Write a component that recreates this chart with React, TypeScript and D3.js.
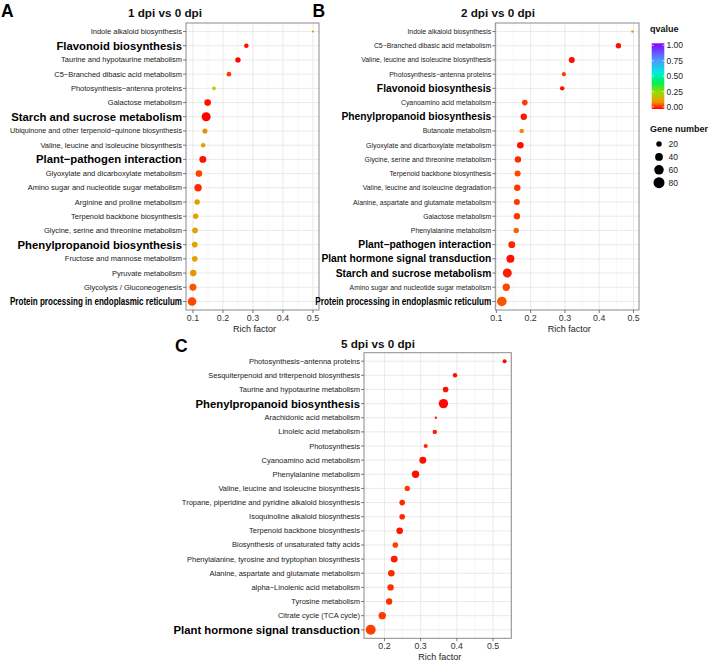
import React, { useEffect, useRef } from "react";
import * as d3 from "d3";

const FONT = "'Liberation Sans', Arial, Helvetica, sans-serif";

const highlightTerms = [
  "Flavonoid biosynthesis",
  "Starch and sucrose metabolism",
  "Plant−pathogen interaction",
  "Phenylpropanoid biosynthesis",
  "Protein processing in endoplasmic reticulum",
  "Plant hormone signal transduction",
];

// Panel A: 1 dpi vs 0 dpi (top to bottom)
const termsA = [
  "Indole alkaloid biosynthesis",
  "Flavonoid biosynthesis",
  "Taurine and hypotaurine metabolism",
  "C5−Branched dibasic acid metabolism",
  "Photosynthesis−antenna proteins",
  "Galactose metabolism",
  "Starch and sucrose metabolism",
  "Ubiquinone and other terpenoid−quinone biosynthesis",
  "Valine, leucine and isoleucine biosynthesis",
  "Plant−pathogen interaction",
  "Glyoxylate and dicarboxylate metabolism",
  "Amino sugar and nucleotide sugar metabolism",
  "Arginine and proline metabolism",
  "Terpenoid backbone biosynthesis",
  "Glycine, serine and threonine metabolism",
  "Phenylpropanoid biosynthesis",
  "Fructose and mannose metabolism",
  "Pyruvate metabolism",
  "Glycolysis / Gluconeogenesis",
  "Protein processing in endoplasmic reticulum",
];
const richA = [0.5, 0.278, 0.25, 0.22, 0.17, 0.149, 0.144, 0.14, 0.134, 0.133, 0.12, 0.117, 0.114, 0.109, 0.107, 0.106, 0.106, 0.101, 0.1, 0.097];
const genesA = [3, 14, 19, 14, 9, 29, 54, 17, 14, 32, 29, 36, 19, 19, 21, 21, 21, 27, 32, 49];
const qA = [0.1, 0.01, 0.005, 0.04, 0.25, 0.01, 0.002, 0.11, 0.13, 0.01, 0.05, 0.03, 0.125, 0.14, 0.135, 0.135, 0.135, 0.11, 0.06, 0.05];

// Panel B: 2 dpi vs 0 dpi
const termsB = [
  "Indole alkaloid biosynthesis",
  "C5−Branched dibasic acid metabolism",
  "Valine, leucine and isoleucine biosynthesis",
  "Photosynthesis−antenna proteins",
  "Flavonoid biosynthesis",
  "Cyanoamino acid metabolism",
  "Phenylpropanoid biosynthesis",
  "Butanoate metabolism",
  "Glyoxylate and dicarboxylate metabolism",
  "Glycine, serine and threonine metabolism",
  "Terpenoid backbone biosynthesis",
  "Valine, leucine and isoleucine degradation",
  "Alanine, aspartate and glutamate metabolism",
  "Galactose metabolism",
  "Phenylalanine metabolism",
  "Plant−pathogen interaction",
  "Plant hormone signal transduction",
  "Starch and sucrose metabolism",
  "Amino sugar and nucleotide sugar metabolism",
  "Protein processing in endoplasmic reticulum",
];
const richB = [0.497, 0.456, 0.32, 0.297, 0.292, 0.183, 0.18, 0.174, 0.17, 0.163, 0.162, 0.161, 0.16, 0.16, 0.158, 0.145, 0.141, 0.132, 0.129, 0.116];
const genesB = [4, 19, 24, 11, 13, 21, 27, 14, 29, 27, 24, 27, 24, 27, 19, 32, 42, 54, 36, 61];
const qB = [0.13, 0.01, 0.01, 0.04, 0.01, 0.04, 0.015, 0.1, 0.01, 0.03, 0.05, 0.04, 0.04, 0.04, 0.07, 0.025, 0.012, 0.02, 0.05, 0.06];

// Panel C: 5 dpi vs 0 dpi
const termsC = [
  "Photosynthesis−antenna proteins",
  "Sesquiterpenoid and triterpenoid biosynthesis",
  "Taurine and hypotaurine metabolism",
  "Phenylpropanoid biosynthesis",
  "Arachidonic acid metabolism",
  "Linoleic acid metabolism",
  "Photosynthesis",
  "Cyanoamino acid metabolism",
  "Phenylalanine metabolism",
  "Valine, leucine and isoleucine biosynthesis",
  "Tropane, piperidine and pyridine alkaloid biosynthesis",
  "Isoquinoline alkaloid biosynthesis",
  "Terpenoid backbone biosynthesis",
  "Biosynthesis of unsaturated fatty acids",
  "Phenylalanine, tyrosine and tryptophan biosynthesis",
  "Alanine, aspartate and glutamate metabolism",
  "alpha−Linolenic acid metabolism",
  "Tyrosine metabolism",
  "Citrate cycle (TCA cycle)",
  "Plant hormone signal transduction",
];
const richC = [0.532, 0.395, 0.369, 0.363, 0.342, 0.339, 0.314, 0.306, 0.286, 0.263, 0.249, 0.249, 0.242, 0.23, 0.227, 0.219, 0.217, 0.213, 0.194, 0.162];
const genesC = [11, 13, 21, 58, 4, 13, 11, 32, 36, 19, 21, 21, 29, 21, 32, 29, 27, 27, 36, 66];
const qC = [0.01, 0.01, 0.01, 0.005, 0.02, 0.02, 0.025, 0.01, 0.01, 0.04, 0.03, 0.03, 0.015, 0.045, 0.02, 0.03, 0.035, 0.035, 0.04, 0.045];

const ticksAB = [0.1, 0.2, 0.3, 0.4, 0.5];
const ticksC = [0.2, 0.3, 0.4, 0.5];
const qLegendTicks = [1, 0.75, 0.5, 0.25, 0];
const geneLegendValues = [20, 40, 60, 80];
const qStops = [0, 0.05, 0.1, 0.15, 0.25, 0.4, 0.55, 0.75, 1];
const qColors = ["#FF0000", "#FF4500", "#F08C00", "#DDAA00", "#99DD00", "#00EE55", "#00EEDD", "#4D94FF", "#8800FF"];

type Panel = {
  letter: string;
  title: string;
  terms: string[];
  rich: number[];
  genes: number[];
  q: number[];
  ticks: number[];
  left: number;
  right: number;
  top: number;
  bottom: number;
  fNormal: number;
  fBold: number;
  maxW: number;
  titleX: number;
  titleY: number;
  letterX: number;
  letterY: number;
};

const panels: Panel[] = [
  { letter: "A", title: "1 dpi vs 0 dpi", terms: termsA, rich: richA, genes: genesA, q: qA, ticks: ticksAB,
    left: 186, right: 319, top: 23, bottom: 310, fNormal: 7.5, fBold: 11.3, maxW: 172,
    titleX: 165, titleY: 16.5, letterX: 1, letterY: 17 },
  { letter: "B", title: "2 dpi vs 0 dpi", terms: termsB, rich: richB, genes: genesB, q: qB, ticks: ticksAB,
    left: 495.3, right: 639, top: 23, bottom: 310, fNormal: 6.9, fBold: 10.3, maxW: 176,
    titleX: 498, titleY: 16.5, letterX: 312.5, letterY: 17 },
  { letter: "C", title: "5 dpi vs 0 dpi", terms: termsC, rich: richC, genes: genesC, q: qC, ticks: ticksC,
    left: 364, right: 511.3, top: 352.7, bottom: 638.3, fNormal: 7.5, fBold: 11.3, maxW: 300,
    titleX: 378, titleY: 348, letterX: 175, letterY: 352 },
];

export default function App() {
  const ref = useRef<SVGSVGElement>(null);
  useEffect(() => {
    const svg = d3.select(ref.current!);
    svg.selectAll("*").remove();
    const color = d3.scaleLinear<string>().domain(qStops).range(qColors).interpolate(d3.interpolateRgb).clamp(true);
    const size = d3.scaleSqrt().domain([0, 80]).range([0, 5.5]);

    svg.append("rect").attr("width", 709).attr("height", 661).attr("fill", "#fff");

    panels.forEach((p) => {
      const g = svg.append("g");
      const [mn, mx] = d3.extent(p.rich) as [number, number];
      const pad = (mx - mn) * 0.05;
      const x = d3.scaleLinear().domain([mn - pad, mx + pad]).range([p.left, p.right]);
      const y = d3.scalePoint<string>().domain(p.terms).range([p.top, p.bottom]).padding(0.6);
      const [d0, d1] = x.domain();

      // grid
      const minors = p.ticks.map((t) => t - 0.05).concat([p.ticks[p.ticks.length - 1] + 0.05]).filter((t) => t > d0 && t < d1);
      g.selectAll(".minor").data(minors).enter().append("line")
        .attr("x1", (d) => x(d)).attr("x2", (d) => x(d)).attr("y1", p.top).attr("y2", p.bottom)
        .attr("stroke", "#f0f0f0").attr("stroke-width", 0.5);
      g.selectAll(".majorx").data(p.ticks).enter().append("line")
        .attr("x1", (d) => x(d)).attr("x2", (d) => x(d)).attr("y1", p.top).attr("y2", p.bottom)
        .attr("stroke", "#e4e4e4").attr("stroke-width", 0.8);
      g.selectAll(".majory").data(p.terms).enter().append("line")
        .attr("x1", p.left).attr("x2", p.right).attr("y1", (d) => y(d)!).attr("y2", (d) => y(d)!)
        .attr("stroke", "#e4e4e4").attr("stroke-width", 0.8);

      // points
      const idx = d3.range(p.terms.length);
      g.selectAll(".pt").data(idx).enter().append("circle")
        .attr("cx", (i) => x(p.rich[i])).attr("cy", (i) => y(p.terms[i])!)
        .attr("r", (i) => size(p.genes[i]))
        .attr("fill", (i) => color(p.q[i]));

      // border
      g.append("rect").attr("x", p.left).attr("y", p.top)
        .attr("width", p.right - p.left).attr("height", p.bottom - p.top)
        .attr("fill", "none").attr("stroke", "#8a8a8a").attr("stroke-width", 1);

      // y ticks + labels
      g.selectAll(".yt").data(p.terms).enter().append("line")
        .attr("x1", p.left - 3).attr("x2", p.left).attr("y1", (d) => y(d)!).attr("y2", (d) => y(d)!)
        .attr("stroke", "#444").attr("stroke-width", 0.7);
      p.terms.forEach((t) => {
        const bold = highlightTerms.includes(t);
        const txt = g.append("text")
          .attr("x", p.left - 4).attr("y", y(t)!)
          .attr("text-anchor", "end").attr("dominant-baseline", "central")
          .attr("font-family", FONT)
          .attr("font-size", bold ? p.fBold : p.fNormal)
          .attr("font-weight", bold ? "bold" : "normal")
          .attr("fill", bold ? "#000" : "#1a1a1a")
          .text(t);
        const node = txt.node() as SVGTextElement;
        const w = node.getComputedTextLength();
        if (w > p.maxW) {
          txt.attr("textLength", p.maxW).attr("lengthAdjust", "spacingAndGlyphs");
        }
      });

      // x ticks + labels
      g.selectAll(".xt").data(p.ticks).enter().append("line")
        .attr("x1", (d) => x(d)).attr("x2", (d) => x(d)).attr("y1", p.bottom).attr("y2", p.bottom + 3)
        .attr("stroke", "#444").attr("stroke-width", 0.7);
      g.selectAll(".xl").data(p.ticks).enter().append("text")
        .attr("x", (d) => x(d)).attr("y", p.bottom + 10.5)
        .attr("text-anchor", "middle").attr("font-family", FONT).attr("font-size", 8.8)
        .attr("fill", "#333").text((d) => d3.format(".1f")(d));
      g.append("text")
        .attr("x", (p.left + p.right) / 2 + 2).attr("y", p.bottom + 21.5)
        .attr("text-anchor", "middle").attr("font-family", FONT).attr("font-size", 9)
        .attr("fill", "#222").text("Rich factor");

      // title + letter
      g.append("text").attr("x", p.titleX).attr("y", p.titleY)
        .attr("text-anchor", "middle").attr("font-family", FONT).attr("font-weight", "bold")
        .attr("font-size", 11.7).attr("fill", "#111").text(p.title);
      g.append("text").attr("x", p.letterX).attr("y", p.letterY)
        .attr("font-family", FONT).attr("font-weight", "bold")
        .attr("font-size", 17.5).attr("fill", "#000").text(p.letter);
    });

    // Legend: qvalue colorbar
    const lg = svg.append("g");
    lg.append("text").attr("x", 650).attr("y", 32).attr("font-family", FONT).attr("font-weight", "bold")
      .attr("font-size", 9).attr("fill", "#111").text("qvalue");
    const defs = svg.append("defs");
    const grad = defs.append("linearGradient").attr("id", "qgrad").attr("x1", 0).attr("x2", 0).attr("y1", 1).attr("y2", 0);
    d3.range(0, 1.0001, 0.02).forEach((v) => {
      grad.append("stop").attr("offset", v).attr("stop-color", color(v));
    });
    const barTop = 43.3, barBot = 109;
    lg.append("rect").attr("x", 651.7).attr("y", barTop).attr("width", 12.6).attr("height", barBot - barTop)
      .attr("fill", "url(#qgrad)");
    const qy = d3.scaleLinear().domain([0, 1]).range([107, 45.3]);
    qLegendTicks.forEach((v) => {
      lg.append("line").attr("x1", 651.7).attr("x2", 654).attr("y1", qy(v)).attr("y2", qy(v)).attr("stroke", "#fff").attr("stroke-width", 0.6);
      lg.append("line").attr("x1", 662.3).attr("x2", 664.3).attr("y1", qy(v)).attr("y2", qy(v)).attr("stroke", "#fff").attr("stroke-width", 0.6);
      lg.append("text").attr("x", 666.5).attr("y", qy(v)).attr("dominant-baseline", "central")
        .attr("font-family", FONT).attr("font-size", 8.5).attr("fill", "#222").text(d3.format(".2f")(v));
    });

    // Legend: gene number
    lg.append("text").attr("x", 650).attr("y", 132).attr("font-family", FONT).attr("font-weight", "bold")
      .attr("font-size", 9).attr("fill", "#111").text("Gene number");
    const gy = d3.scalePoint<number>().domain(geneLegendValues).range([144, 182.7]);
    geneLegendValues.forEach((v) => {
      lg.append("circle").attr("cx", 659).attr("cy", gy(v)!).attr("r", size(v)).attr("fill", "#000");
      lg.append("text").attr("x", 668.5).attr("y", gy(v)!).attr("dominant-baseline", "central")
        .attr("font-family", FONT).attr("font-size", 8.5).attr("fill", "#222").text(String(v));
    });
  }, []);

  return (
    <svg ref={ref} width={709} height={661}
      style={{ position: "absolute", left: 0, top: 0, display: "block" }} />
  );
}
